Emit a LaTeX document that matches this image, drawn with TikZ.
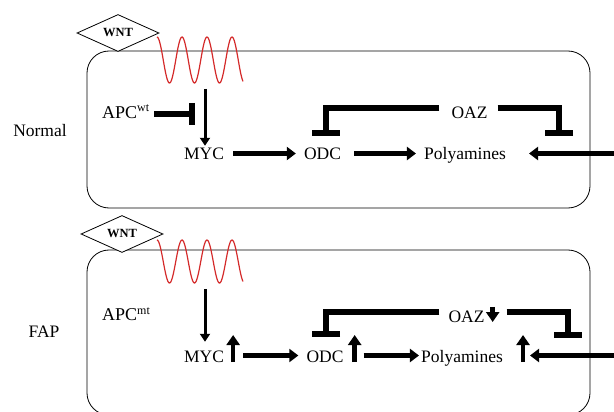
\documentclass[tikz,border=0pt]{standalone}
\usepackage{fontspec}
\setmainfont{Liberation Serif}
\usetikzlibrary{arrows.meta,calc,positioning,shapes.geometric}
\definecolor{wavered}{HTML}{D42A2A}
\newcommand{\allele}[1]{\raisebox{6pt}{\fontsize{12}{12}\selectfont #1}}

\begin{document}
\begin{tikzpicture}[x=1pt,y=-1pt,font=\fontsize{17.5}{20}\selectfont]
  \tikzset{molecule/.style={inner sep=0pt, text height=13pt, text depth=0pt, anchor=base},
    apcnode/.style={molecule, anchor=base west, text height=11pt, text depth=3pt, font=\fontsize{18}{21}\selectfont},
    ligand/.style={draw, line width=0.8pt, diamond, aspect=2.2, minimum width=82pt, minimum height=37pt, inner sep=0pt, font=\fontsize{12.5}{13}\selectfont\bfseries},
    cell/.style={draw, line width=0.8pt, rounded corners=22pt},
    membrane/.style={wavered, line width=1.2pt},
    actarrow/.style={line width=5.5pt, -{Triangle[length=9pt,width=13pt]}, shorten <=9pt, shorten >=8pt},
    sigarrow/.style={line width=3pt, -{Triangle[length=8pt,width=10pt]}},
    inhibit/.style={line width=6pt, -{Bar[width=28pt]}},
    upmark/.style={line width=4.5pt, -{Triangle[length=10pt,width=13pt]}}}
  \clip (0,0) rectangle (614,412);
  \draw[cell] (87,51) rectangle (590,208);
  \draw[cell] (87,250) rectangle (590,415);
  \draw[membrane] plot[domain=157:243, samples=120] (\x, {60-23*cos(14.4*(\x-157))});
  \draw[membrane] plot[domain=157:243, samples=120] (\x, {261.5-21.5*cos(14.4*(\x-157))});
  \node[ligand, fill=white] (wnt1) at (118,33) {WNT};
  \node[ligand, fill=white] (wnt2) at (122,234) {WNT};
  \node[molecule] (normal) at (40,137) {Normal};
  \node[molecule] (fap) at (44,337) {FAP};

  \node[apcnode] (apc1) at (102,118) {APC\allele{wt}};
  \node[molecule] (myc1) at (204,160) {MYC};
  \node[molecule] (odc1) at (322.5,160) {ODC};
  \node[molecule] (poly1) at (465,160) {Polyamines};
  \node[molecule] (oaz1) at (469.5,118) {OAZ};
  \coordinate (sig1) at (205,89);
  \coordinate (src1) at (625,153.5);
  \coordinate (upt1) at (559,153.5);
  \draw[sigarrow, shorten >=1pt] (sig1) -- (sig1 |- myc1.north);
  \draw[inhibit, -{Bar[width=22pt]}, shorten <=5pt, shorten >=10pt] (apc1.east) -- (apc1.east -| sig1);
  \draw[actarrow] (myc1) -- (odc1);
  \draw[actarrow, shorten <=13pt] (odc1) -- (poly1);
  \draw[actarrow, shorten <=0pt, shorten >=23pt] (src1) -- (src1 -| poly1.east);
  \draw[inhibit, shorten <=12pt, shorten >=11pt] ([yshift=3pt]oaz1.west) -| ([xshift=3pt]odc1.north);
  \draw[inhibit, shorten <=10pt, shorten >=17pt] ([yshift=3pt]oaz1.east) -| (upt1);

  \node[apcnode] (apc2) at (102,320) {APC\allele{mt}};
  \node[molecule] (myc2) at (204,362) {MYC};
  \node[molecule] (odc2) at (325,362) {ODC};
  \node[molecule] (poly2) at (462,362) {Polyamines};
  \node[molecule] (oaz2) at (466.5,322) {OAZ};
  \coordinate (sig2) at (205,289);
  \coordinate (src2) at (625,355.5);
  \coordinate (upt2) at (567.5,355.5);
  \draw[sigarrow, shorten >=7pt] (sig2) -- (sig2 |- myc2.north);
  \draw[actarrow, shorten <=19pt] (myc2) -- (odc2);
  \draw[actarrow, shorten <=20pt, shorten >=2pt] (odc2) -- (poly2);
  \draw[actarrow, shorten <=0pt, shorten >=27pt] (src2) -- (src2 -| poly2.east);
  \draw[inhibit, shorten <=9pt, shorten >=12pt] ([yshift=4pt]oaz2.west) -| ([xshift=1pt]odc2.north);
  \draw[inhibit, shorten <=22pt, shorten >=18pt] ([yshift=4pt]oaz2.east) -| (upt2);
  \draw[upmark] ([xshift=9pt]myc2.base east) -- ++(0,-27);
  \draw[upmark] ([xshift=11pt]odc2.base east) -- ++(0,-27);
  \draw[upmark] ([xshift=20pt]poly2.base east) -- ++(0,-27);
  \draw[upmark] ([xshift=8pt,yshift=2pt]oaz2.north east) -- ([xshift=8pt]oaz2.base east);
\end{tikzpicture}
\end{document}
